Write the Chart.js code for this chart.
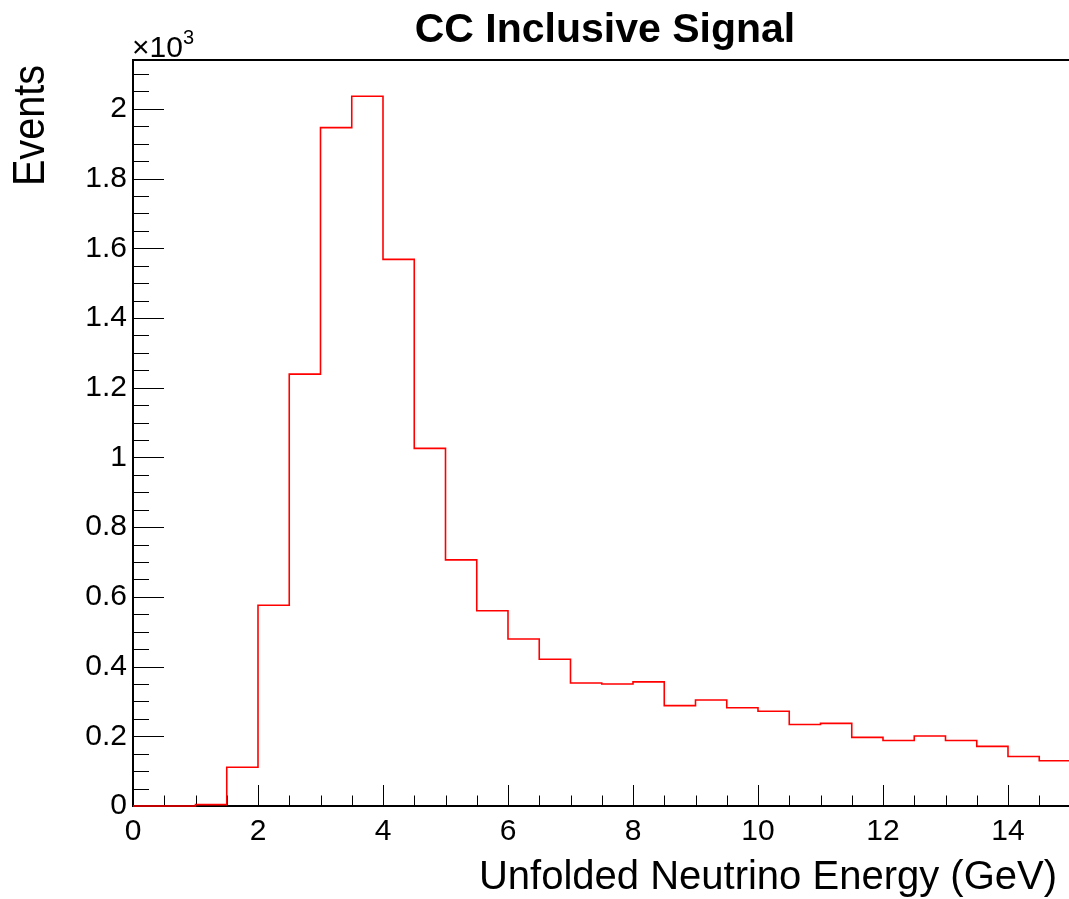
<!DOCTYPE html>
<html>
<head>
<meta charset="utf-8">
<title>CC Inclusive Signal</title>
<script src="https://cdn.jsdelivr.net/npm/chart.js@4.4.0/dist/chart.umd.min.js"></script>
<style>
  html, body { margin: 0; padding: 0; background: #fff; overflow: hidden; }
  #wrap { position: relative; width: 1080px; height: 899px; }
</style>
</head>
<body>
<div id="wrap"><canvas id="chart" width="1080" height="899"></canvas></div>
<script>
// lower bin edges (GeV), plus the closing edge at 15
const binEdges = [0, 0.5, 1, 1.5, 2, 2.5, 3, 3.5, 4, 4.5, 5, 5.5, 6, 6.5, 7, 7.5,
  8, 8.5, 9, 9.5, 10, 10.5, 11, 11.5, 12, 12.5, 13, 13.5, 14, 14.5, 15];
// events per bin
const signalCounts = [0, 0, 4, 111, 576, 1239, 1946, 2036, 1568, 1026, 706, 560,
  479, 421, 353, 350, 356, 288, 304, 282, 272, 234, 237, 197, 188, 201, 188, 171, 142, 130];
const xTickStep = 2;
const yTickStep = 200;
const xRange = [0, 15];
const yRange = [0, 2140];

const FONT = '"Liberation Sans", Arial, Helvetica, sans-serif';

// histogram outline: one point per lower edge, last edge repeats the last bin
const histPoints = binEdges.map((edge, i) => ({
  x: edge,
  y: signalCounts[Math.min(i, signalCounts.length - 1)],
}));

// ROOT-like frame with inward ticks and the free texts
const rootFrame = {
  id: 'rootFrame',
  beforeDatasetsDraw(chart) {
    const { ctx, chartArea: a, scales } = chart;
    const { x, y } = scales;
    ctx.save();
    ctx.strokeStyle = '#000';

    ctx.lineWidth = 1;
    ctx.beginPath();
    for (let v = xRange[0]; v <= xRange[1]; v += 0.5) {
      const px = Math.round(x.getPixelForValue(v)) + 0.5;
      const len = v % xTickStep === 0 ? 21 : 10.5;
      ctx.moveTo(px, a.bottom);
      ctx.lineTo(px, a.bottom - len);
    }
    for (let v = yRange[0]; v <= yRange[1]; v += 50) {
      const py = Math.round(y.getPixelForValue(v)) + 0.5;
      const len = v % yTickStep === 0 ? 31 : 16;
      ctx.moveTo(a.left, py);
      ctx.lineTo(a.left + len, py);
    }
    ctx.stroke();

    ctx.lineWidth = 2;
    ctx.strokeRect(a.left, a.top, a.right - a.left, a.bottom - a.top);
    ctx.restore();
  },
  afterDraw(chart) {
    const { ctx, chartArea: a } = chart;
    ctx.save();
    ctx.fillStyle = '#000';

    ctx.font = 'bold 41px ' + FONT;
    ctx.textAlign = 'center';
    ctx.textBaseline = 'alphabetic';
    ctx.fillText('CC Inclusive Signal', 605, 42);

    ctx.font = '40px ' + FONT;
    ctx.textAlign = 'right';
    ctx.fillText('Unfolded Neutrino Energy (GeV)', 1057, 889);

    // y title, a bit narrower than Liberation Sans like the original
    ctx.save();
    ctx.translate(44, 65);
    ctx.rotate(-Math.PI / 2);
    ctx.scale(0.88, 1);
    ctx.font = '45px ' + FONT;
    ctx.textAlign = 'right';
    ctx.fillText('Events', 0, 0);
    ctx.restore();

    ctx.textAlign = 'left';
    ctx.font = '30px ' + FONT;
    ctx.fillText('\u00d710', a.left - 1, 57);
    const w = ctx.measureText('\u00d710').width;
    ctx.font = '20px ' + FONT;
    ctx.fillText('3', a.left - 1 + w, 44);
    ctx.restore();
  },
};

new Chart(document.getElementById('chart'), {
  type: 'line',
  data: {
    datasets: [{
      label: 'CC Inclusive Signal',
      data: histPoints,
      stepped: true,
      borderColor: '#ff0000',
      borderWidth: 1.6,
      pointRadius: 0,
      fill: false,
      clip: 2,
    }],
  },
  plugins: [rootFrame],
  options: {
    responsive: false,
    animation: false,
    events: [],
    layout: { padding: { top: 60, right: 9.5, left: 0, bottom: 0 } },
    plugins: {
      legend: { display: false },
      tooltip: { enabled: false },
      title: { display: false },
    },
    scales: {
      x: {
        type: 'linear',
        min: xRange[0],
        max: xRange[1],
        grid: { display: false, drawTicks: false },
        border: { display: false },
        ticks: {
          stepSize: xTickStep,
          includeBounds: false,
          autoSkip: false,
          maxRotation: 0,
          padding: 8,
          color: '#000',
          font: { family: FONT, size: 30 },
        },
        afterFit: (s) => { s.height = 93; },
      },
      y: {
        type: 'linear',
        min: yRange[0],
        max: yRange[1],
        grid: { display: false, drawTicks: false },
        border: { display: false },
        ticks: {
          stepSize: yTickStep,
          includeBounds: false,
          autoSkip: false,
          padding: 6,
          color: '#000',
          font: { family: FONT, size: 30 },
          callback: (v) => (v === 0 ? '0' : String(v / 1000)),
        },
        afterFit: (s) => { s.width = 133; },
      },
    },
  },
});
</script>
</body>
</html>
